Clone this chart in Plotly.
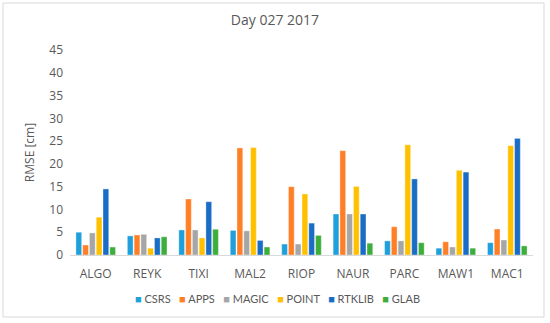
import plotly.graph_objects as go

stations = ["ALGO", "REYK", "TIXI", "MAL2", "RIOP", "NAUR", "PARC", "MAW1", "MAC1"]
csrs   = [5.0, 4.2, 5.5, 5.4, 2.4, 9.0, 3.1, 1.5, 2.7]
apps   = [2.2, 4.4, 12.3, 23.5, 15.0, 22.9, 6.2, 2.9, 5.7]
magic  = [4.85, 4.55, 5.5, 5.3, 2.4, 9.0, 3.1, 1.75, 3.3]
point  = [8.3, 1.5, 3.75, 23.6, 13.4, 15.05, 24.2, 18.6, 24.0]
rtklib = [14.5, 3.75, 11.7, 3.2, 7.0, 9.0, 16.7, 18.2, 25.6]
glab   = [1.75, 4.0, 5.65, 1.75, 4.3, 2.6, 2.7, 1.5, 2.0]

series = [
    ("CSRS", csrs, "#1FA0DA"),
    ("APPS", apps, "#FF7F27"),
    ("MAGIC", magic, "#A6A6A6"),
    ("POINT", point, "#FFC000"),
    ("RTKLIB", rtklib, "#1A6DC6"),
    ("GLAB", glab, "#3DAE3C"),
]

fig = go.Figure()
for name, vals, col in series:
    fig.add_trace(go.Bar(x=stations, y=vals, name=name, showlegend=False,
                         marker=dict(color=col, line=dict(color="rgba(255,255,255,0.6)", width=0.6))))

# compact legend as real text (Excel-style)
legend_text = "&nbsp;&nbsp;&nbsp;".join(
    f"<span style='color:{col}'>■</span>&nbsp;{name}" for name, _, col in series)

font_fam = "Open Sans, Liberation Sans, sans-serif"
fig.update_layout(
    width=550, height=323,
    margin=dict(l=70, r=17, t=50, b=68, autoexpand=False),
    paper_bgcolor="white", plot_bgcolor="white",
    barmode="group", bargap=0.21, bargroupgap=0.15,
    title=dict(text="Day 027 2017", x=0.5, xanchor="center", y=1 - 20/323, yanchor="middle",
               font=dict(family=font_fam, size=14, color="#595959")),
    font=dict(family=font_fam, color="#595959"),
    xaxis=dict(showline=True, linecolor="#D9D9D9", linewidth=1, ticks="",
               tickfont=dict(size=12, color="#595959"), showgrid=False, ticklabelstandoff=8),
    yaxis=dict(range=[0, 45], dtick=5, showgrid=False, zeroline=False, ticks="",
               tickfont=dict(size=12, color="#595959"), ticklabelstandoff=6,
               title=dict(text="RMSE [cm]", font=dict(size=12, color="#595959"), standoff=12)),
    annotations=[dict(text=legend_text, xref="paper", yref="paper",
                      x=(277-70)/463, y=(255-298)/205, xanchor="center", yanchor="middle",
                      showarrow=False, font=dict(family="Lato, Open Sans, sans-serif", size=11, color="#595959"))],
    shapes=[dict(type="rect", xref="paper", yref="paper",
                 x0=(3-70)/463, x1=(544-70)/463, y0=(255-317)/205, y1=(255-3)/205,
                 line=dict(color="#D9D9D9", width=1), fillcolor="rgba(0,0,0,0)", layer="below")],
)

fig.write_html("out.html", config={"displayModeBar": False},
               post_script="document.body.style.margin='0';")
